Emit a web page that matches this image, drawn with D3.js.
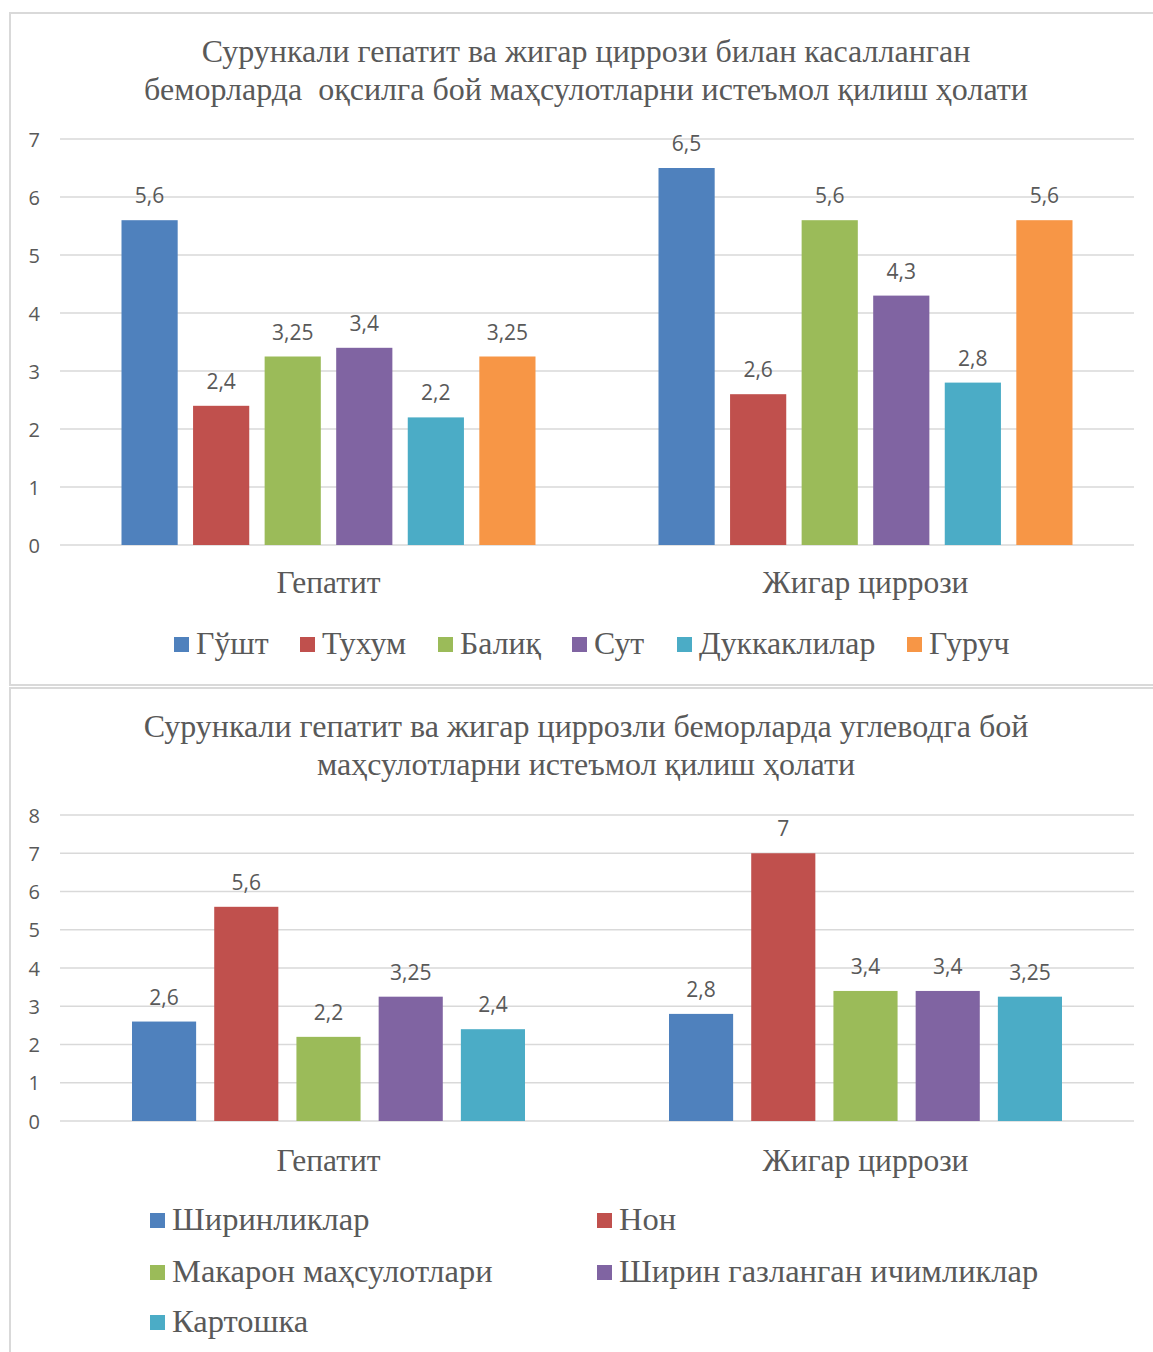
<!DOCTYPE html>
<html>
<head>
<meta charset="utf-8">
<script src="https://cdn.jsdelivr.net/npm/d3@7"></script>
<style>
  html, body { margin: 0; padding: 0; background: #fff; }
  svg { display: block; }
  text { white-space: pre; }
</style>
</head>
<body>
<svg id="chart" width="1153" height="1352"></svg>
<script>
// ---------- Data ----------
const categories = ["Гепатит", "Жигар циррози"];

// Chart 1: protein-rich products
const title1 = ["Сурункали гепатит ва жигар циррози билан касалланган", "беморларда  оқсилга бой маҳсулотларни истеъмол қилиш ҳолати"];
const series1Names = ["Гўшт", "Тухум", "Балиқ", "Сут", "Дуккаклилар", "Гуруч"];
const series1Hepatitis = [5.6, 2.4, 3.25, 3.4, 2.2, 3.25];
const series1Cirrhosis = [6.5, 2.6, 5.6, 4.3, 2.8, 5.6];
const yTicks1 = [0, 1, 2, 3, 4, 5, 6, 7];

// Chart 2: carbohydrate-rich products
const title2 = ["Сурункали гепатит ва жигар циррозли беморларда углеводга бой", "маҳсулотларни истеъмол қилиш ҳолати"];
const series2Names = ["Ширинликлар", "Нон", "Макарон маҳсулотлари", "Ширин газланган ичимликлар", "Картошка"];
const series2Hepatitis = [2.6, 5.6, 2.2, 3.25, 2.4];
const series2Cirrhosis = [2.8, 7, 3.4, 3.4, 3.25];
const yTicks2 = [0, 1, 2, 3, 4, 5, 6, 7, 8];

const colors = ["#4F81BD", "#C0504D", "#9BBB59", "#8064A2", "#4BACC6", "#F79646"];

// ---------- Drawing ----------
const svg = d3.select("#chart");
const textColor = "#595959";
const serif = "'Liberation Serif', 'Times New Roman', serif";
const sans = "'Open Sans', 'Liberation Sans', sans-serif";
const fmt = v => String(v).replace(".", ",");

// frames
svg.append("rect").attr("x", 10).attr("y", 13).attr("width", 1160).attr("height", 672)
  .attr("fill", "none").attr("stroke", "#d9d9d9").attr("stroke-width", 2);
svg.append("rect").attr("x", 10).attr("y", 688).attr("width", 1160).attr("height", 700)
  .attr("fill", "none").attr("stroke", "#d9d9d9").attr("stroke-width", 2);

function drawChart(opt) {
  const g = svg.append("g");
  // title
  opt.title.forEach((line, i) => {
    g.append("text").attr("x", 586).attr("y", opt.titleY + i * 38)
      .attr("text-anchor", "middle").attr("font-family", serif).attr("font-size", 32)
      .attr("fill", textColor).text(line);
  });

  const x0 = d3.scaleBand().domain(categories).range([60, 1134]).paddingInner(0).paddingOuter(0);
  const x1 = d3.scaleBand().domain(opt.names).range([opt.innerPad, x0.bandwidth() - opt.innerPad])
    .paddingInner(opt.barGap).paddingOuter(0);
  const y = d3.scaleLinear().domain([0, d3.max(opt.ticks)]).range([opt.y0, opt.yTop]);

  // gridlines
  g.append("g").selectAll("line").data(opt.ticks).join("line")
    .attr("x1", 60).attr("x2", 1134)
    .attr("y1", d => y(d)).attr("y2", d => y(d))
    .attr("stroke", "#d9d9d9").attr("stroke-width", 1.5);

  // y axis labels via d3 axis
  const yAxis = d3.axisLeft(y).tickValues(opt.ticks).tickSize(0).tickPadding(0).tickFormat(d3.format("d"));
  const ay = g.append("g").attr("transform", "translate(40,0)").call(yAxis);
  ay.select(".domain").remove();
  ay.selectAll("text").attr("font-family", sans).attr("font-size", 20).attr("fill", textColor)
    .attr("dy", "0.35em");

  // bars
  const data = categories.map((c, ci) => ({ cat: c, vals: opt.values[ci] }));
  const groups = g.selectAll("g.grp").data(data).join("g").attr("class", "grp")
    .attr("transform", d => `translate(${x0(d.cat)},0)`);
  groups.selectAll("rect").data(d => d.vals.map((v, i) => ({ name: opt.names[i], v, i })))
    .join("rect")
    .attr("x", d => x1(d.name)).attr("width", x1.bandwidth())
    .attr("y", d => y(d.v)).attr("height", d => y(0) - y(d.v))
    .attr("fill", d => colors[d.i]);
  groups.selectAll("text").data(d => d.vals.map((v, i) => ({ name: opt.names[i], v, i })))
    .join("text")
    .attr("x", d => x1(d.name) + x1.bandwidth() / 2).attr("y", d => y(d.v) - 17)
    .attr("text-anchor", "middle").attr("font-family", sans).attr("font-size", 21)
    .attr("fill", textColor).text(d => fmt(d.v));

  // category axis labels
  const xAxis = d3.axisBottom(x0).tickSize(0).tickPadding(0);
  const ax = g.append("g").attr("transform", `translate(0,${opt.catY})`).call(xAxis);
  ax.select(".domain").remove();
  ax.selectAll("text").attr("font-family", serif).attr("font-size", 31.5).attr("fill", textColor)
    .attr("dy", 0).attr("y", 0);

  // legend
  opt.legend.forEach((p, i) => {
    const lg = g.append("g").attr("transform", `translate(${p[0]},${p[1]})`);
    lg.append("rect").attr("x", 0).attr("y", -17).attr("width", 15).attr("height", 15).attr("fill", colors[i]);
    lg.append("text").attr("x", 22).attr("y", 0).attr("font-family", serif).attr("font-size", opt.legendSize)
      .attr("fill", textColor).text(opt.names[i]);
  });
}

drawChart({
  title: title1, titleY: 62,
  names: series1Names,
  values: [series1Hepatitis, series1Cirrhosis],
  ticks: yTicks1, y0: 545, yTop: 139,
  innerPad: 61.5, barGap: 0.215,
  catY: 593,
  legendSize: 31.8,
  legend: [[174, 654], [300, 654], [438, 654], [572, 654], [677, 654], [907, 654]]
});

drawChart({
  title: title2, titleY: 737,
  names: series2Names,
  values: [series2Hepatitis, series2Cirrhosis],
  ticks: yTicks2, y0: 1121, yTop: 815,
  innerPad: 72, barGap: 0.22,
  catY: 1171,
  legendSize: 32.5,
  legend: [[150, 1230], [597, 1230], [150, 1282], [597, 1282], [150, 1332]]
});
</script>
</body>
</html>
